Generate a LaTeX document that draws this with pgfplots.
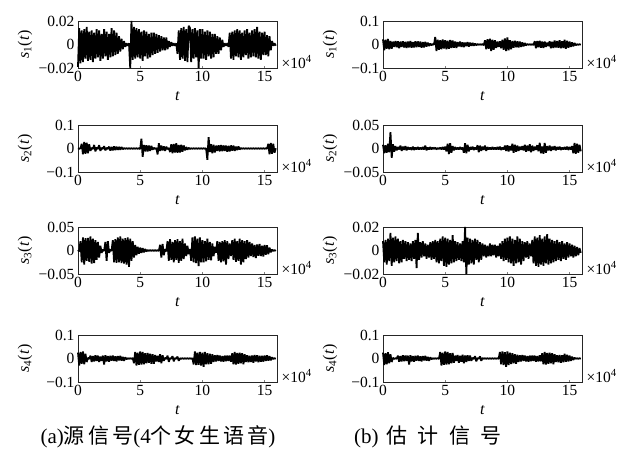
\documentclass[border=0pt]{standalone}
\usepackage{fontspec}
\setmainfont{Liberation Serif}
\newfontfamily\cjk[LetterSpace=15]{Noto Sans CJK SC}
\newfontfamily\cjkb[LetterSpace=50]{Noto Sans CJK SC}
\usepackage{pgfplots}
\pgfplotsset{compat=1.18}
\pgfplotsset{
  sig/.style={
    scale only axis, width=199pt, height=47pt, anchor=south west, clip=false,
    xmin=0, xmax=16, xtick={0,5,10,15},
    scaled x ticks=false, scaled y ticks=false,
    xtick pos=left, ytick pos=left, tick align=inside, major tick length=2.5pt,
    /pgf/number format/assume math mode=true,
    tick label style={font=\fontsize{15.5}{17}\selectfont},
    axis line style={black!85, line width=0.6pt},
    every axis y label/.style={at={(axis description cs:0,0.5)}, xshift=-53pt, rotate=90, anchor=center, font=\fontsize{16}{18}\selectfont},
    every axis x label/.style={at={(axis description cs:0.5,0)}, yshift=-28pt, anchor=center, font=\fontsize{16}{18}\selectfont},
    xlabel={\textit{t}},
  },
  sigline/.style={black, line width=1.8pt, mark=none, line join=bevel},
}
\newcommand{\xfour}{\node[anchor=west, font=\fontsize{15.5}{17}\selectfont, xshift=1pt, yshift=6pt] at (rel axis cs:1,0) {×10\textsuperscript{4}};}
\newcommand{\sigl}[1]{\textit{s}\textsubscript{#1}(\textit{t})}
\begin{document}
\begin{tikzpicture}
\useasboundingbox (0,0) rectangle (626pt,-450pt);
% ---------- left column ----------
\begin{axis}[sig, at={(78pt,-68pt)}, ymin=-0.02, ymax=0.02, ytick={-0.02,0,0.02}, yticklabels={−0.02,0,0.02}, ylabel={\sigl{1}}]
\addplot[sigline] table[header=false, row sep=\\, x expr=\coordindex*0.1, y index=0]{
-0.019\\ 0.014\\ -0.016\\ 0.012\\ -0.015\\ 0.013\\ -0.012\\ 0.015\\ -0.014\\ 0.011\\
-0.013\\ 0.012\\ -0.015\\ 0.010\\ -0.012\\ 0.013\\ -0.011\\ 0.012\\ -0.014\\ 0.009\\
-0.012\\ 0.013\\ -0.010\\ 0.011\\ -0.013\\ 0.009\\ -0.011\\ 0.014\\ -0.010\\ 0.012\\
-0.009\\ 0.010\\ -0.008\\ 0.007\\ -0.006\\ 0.005\\ -0.004\\ 0.003\\ -0.002\\ 0.001\\
-0.001\\ 0.001\\ -0.020\\ 0.020\\ -0.013\\ 0.015\\ -0.012\\ 0.014\\ -0.011\\ 0.013\\
-0.012\\ 0.011\\ -0.014\\ 0.012\\ -0.010\\ 0.011\\ -0.012\\ 0.009\\ -0.011\\ 0.010\\
-0.009\\ 0.010\\ -0.008\\ 0.009\\ -0.007\\ 0.008\\ -0.006\\ 0.007\\ -0.005\\ 0.006\\
-0.005\\ 0.006\\ -0.004\\ 0.003\\ -0.002\\ 0.002\\ -0.001\\ 0.001\\ -0.001\\ 0.001\\
-0.008\\ 0.012\\ -0.013\\ 0.014\\ -0.012\\ 0.015\\ -0.014\\ 0.013\\ -0.015\\ 0.016\\
0.014\\ -0.015\\ 0.013\\ -0.012\\ 0.014\\ -0.011\\ 0.012\\ -0.020\\ 0.013\\ -0.012\\
0.013\\ -0.012\\ 0.011\\ -0.013\\ 0.012\\ -0.010\\ 0.011\\ -0.012\\ 0.009\\ -0.011\\
0.009\\ -0.008\\ 0.007\\ -0.008\\ 0.006\\ -0.005\\ 0.004\\ -0.002\\ 0.001\\ -0.001\\
0.001\\ -0.002\\ 0.010\\ -0.012\\ 0.011\\ -0.013\\ 0.012\\ -0.010\\ 0.013\\ -0.011\\
0.012\\ -0.013\\ 0.010\\ -0.011\\ 0.012\\ -0.009\\ 0.013\\ -0.012\\ 0.010\\ -0.011\\
0.012\\ -0.010\\ 0.013\\ -0.011\\ 0.015\\ -0.012\\ 0.011\\ -0.013\\ 0.010\\ -0.009\\
0.011\\ -0.009\\ 0.008\\ -0.010\\ 0.007\\ -0.005\\ 0.003\\ -0.001\\ 0.001\\ -0.001\\
};
\xfour
\end{axis}
\begin{axis}[sig, at={(78pt,-172pt)}, ymin=-0.1, ymax=0.1, ytick={-0.1,0,0.1}, yticklabels={−0.1,0,0.1}, ylabel={\sigl{2}}]
\addplot[sigline] table[header=false, row sep=\\, x expr=\coordindex*0.1, y index=0]{
0.001\\ -0.001\\ 0.001\\ 0.020\\ -0.025\\ 0.028\\ -0.022\\ 0.025\\ -0.020\\ 0.018\\
-0.010\\ 0.003\\ -0.002\\ 0.015\\ -0.012\\ 0.004\\ -0.002\\ 0.014\\ -0.010\\ 0.003\\
-0.002\\ 0.010\\ -0.008\\ 0.003\\ -0.002\\ 0.008\\ -0.009\\ 0.007\\ -0.008\\ 0.009\\
-0.007\\ 0.008\\ -0.006\\ 0.007\\ -0.005\\ 0.006\\ -0.003\\ 0.002\\ -0.001\\ 0.001\\
-0.001\\ 0.001\\ -0.001\\ 0.001\\ -0.001\\ 0.001\\ -0.001\\ 0.001\\ -0.001\\ 0.001\\
-0.002\\ 0.042\\ -0.035\\ 0.015\\ -0.012\\ 0.014\\ -0.013\\ 0.012\\ -0.010\\ 0.011\\
-0.005\\ 0.003\\ -0.002\\ 0.002\\ -0.025\\ 0.022\\ -0.010\\ 0.012\\ -0.008\\ 0.009\\
-0.010\\ 0.008\\ -0.003\\ 0.002\\ -0.015\\ 0.018\\ -0.020\\ 0.019\\ -0.017\\ 0.022\\
-0.018\\ 0.015\\ -0.017\\ 0.016\\ -0.014\\ 0.013\\ -0.008\\ 0.006\\ -0.005\\ 0.003\\
-0.002\\ 0.001\\ -0.001\\ 0.001\\ -0.001\\ 0.001\\ -0.001\\ 0.001\\ -0.001\\ 0.001\\
-0.001\\ 0.001\\ -0.001\\ 0.001\\ -0.048\\ 0.048\\ -0.015\\ 0.018\\ -0.020\\ 0.016\\
-0.017\\ 0.012\\ -0.010\\ 0.014\\ -0.012\\ 0.015\\ -0.011\\ 0.013\\ -0.010\\ 0.012\\
-0.014\\ 0.011\\ -0.012\\ 0.013\\ -0.009\\ 0.012\\ -0.010\\ 0.008\\ -0.007\\ 0.009\\
-0.004\\ 0.002\\ -0.001\\ 0.001\\ -0.001\\ 0.001\\ -0.001\\ 0.001\\ -0.001\\ 0.001\\
-0.001\\ 0.001\\ -0.001\\ 0.001\\ -0.001\\ 0.001\\ -0.001\\ 0.001\\ -0.001\\ 0.001\\
-0.001\\ 0.001\\ -0.001\\ 0.020\\ -0.025\\ 0.024\\ -0.022\\ 0.020\\ -0.018\\ 0.001\\
};
\xfour
\end{axis}
\begin{axis}[sig, at={(78pt,-274pt)}, ymin=-0.05, ymax=0.05, ytick={-0.05,0,0.05}, yticklabels={−0.05,0,0.05}, ylabel={\sigl{3}}]
\addplot[sigline] table[header=false, row sep=\\, x expr=\coordindex*0.1, y index=0]{
0.001\\ -0.002\\ 0.020\\ -0.025\\ 0.028\\ -0.030\\ 0.026\\ -0.022\\ 0.027\\ -0.024\\
0.030\\ -0.028\\ 0.025\\ -0.027\\ 0.022\\ -0.020\\ 0.018\\ -0.015\\ 0.010\\ -0.005\\
0.002\\ -0.001\\ 0.018\\ -0.022\\ 0.020\\ -0.005\\ 0.002\\ -0.001\\ 0.022\\ -0.025\\
0.024\\ -0.026\\ 0.028\\ -0.025\\ 0.030\\ -0.027\\ 0.025\\ -0.028\\ 0.026\\ -0.030\\
0.028\\ -0.035\\ 0.025\\ -0.022\\ 0.020\\ -0.015\\ 0.012\\ -0.010\\ 0.008\\ -0.007\\
0.006\\ -0.005\\ 0.005\\ -0.004\\ 0.003\\ -0.002\\ 0.001\\ -0.001\\ 0.001\\ -0.001\\
0.001\\ -0.001\\ 0.001\\ -0.001\\ 0.001\\ -0.001\\ 0.012\\ -0.015\\ 0.014\\ -0.010\\
0.003\\ -0.002\\ 0.020\\ -0.022\\ 0.024\\ -0.020\\ 0.018\\ -0.025\\ 0.022\\ -0.020\\
0.024\\ -0.026\\ 0.020\\ -0.022\\ 0.025\\ -0.018\\ 0.015\\ -0.012\\ 0.010\\ -0.008\\
0.003\\ -0.022\\ 0.028\\ -0.025\\ 0.030\\ -0.027\\ 0.025\\ -0.033\\ 0.028\\ -0.025\\
0.022\\ -0.025\\ 0.020\\ -0.023\\ 0.025\\ -0.020\\ 0.018\\ -0.021\\ 0.015\\ -0.012\\
0.008\\ -0.005\\ 0.020\\ -0.022\\ 0.018\\ -0.025\\ 0.020\\ -0.023\\ 0.022\\ -0.030\\
0.020\\ -0.018\\ 0.015\\ -0.012\\ 0.022\\ -0.020\\ 0.025\\ -0.024\\ 0.020\\ -0.022\\
0.025\\ -0.030\\ 0.022\\ -0.025\\ 0.020\\ -0.018\\ 0.022\\ -0.015\\ 0.018\\ -0.012\\
0.015\\ -0.014\\ 0.012\\ -0.016\\ 0.013\\ -0.011\\ 0.014\\ -0.012\\ 0.010\\ -0.013\\
0.012\\ -0.009\\ 0.011\\ -0.008\\ 0.006\\ -0.004\\ 0.002\\ -0.001\\ 0.001\\ -0.001\\
};
\xfour
\end{axis}
\begin{axis}[sig, at={(78pt,-382pt)}, ymin=-0.1, ymax=0.1, ytick={-0.1,0,0.1}, yticklabels={−0.1,0,0.1}, ylabel={\sigl{4}}]
\addplot[sigline] table[header=false, row sep=\\, x expr=\coordindex*0.1, y index=0]{
0.025\\ -0.030\\ 0.028\\ -0.022\\ 0.030\\ -0.025\\ 0.020\\ -0.015\\ 0.003\\ -0.002\\
0.012\\ -0.015\\ 0.010\\ -0.012\\ 0.014\\ -0.010\\ 0.012\\ -0.015\\ 0.008\\ -0.010\\
0.012\\ -0.025\\ 0.014\\ -0.012\\ 0.010\\ -0.013\\ 0.011\\ -0.009\\ 0.012\\ -0.010\\
0.009\\ -0.012\\ 0.010\\ -0.008\\ 0.011\\ -0.009\\ 0.007\\ -0.010\\ 0.005\\ -0.003\\
0.001\\ -0.001\\ 0.001\\ -0.001\\ 0.002\\ -0.020\\ 0.028\\ -0.030\\ 0.025\\ -0.027\\
0.030\\ -0.026\\ 0.028\\ -0.025\\ 0.022\\ -0.020\\ 0.024\\ -0.018\\ 0.020\\ -0.022\\
0.018\\ -0.022\\ 0.015\\ -0.013\\ 0.012\\ -0.015\\ 0.018\\ -0.020\\ 0.014\\ -0.010\\
0.003\\ -0.002\\ 0.012\\ -0.014\\ 0.002\\ -0.001\\ 0.010\\ -0.012\\ 0.002\\ -0.001\\
0.008\\ -0.010\\ 0.001\\ -0.001\\ 0.001\\ -0.001\\ 0.001\\ -0.001\\ 0.001\\ -0.001\\
0.001\\ -0.001\\ 0.001\\ -0.025\\ 0.030\\ -0.028\\ 0.025\\ -0.027\\ 0.028\\ -0.030\\
0.025\\ -0.035\\ 0.028\\ -0.025\\ 0.022\\ -0.024\\ 0.020\\ -0.022\\ 0.018\\ -0.015\\
0.014\\ -0.012\\ 0.015\\ -0.010\\ 0.013\\ -0.012\\ 0.010\\ -0.014\\ 0.012\\ -0.011\\
0.013\\ -0.010\\ 0.012\\ -0.014\\ 0.022\\ -0.025\\ 0.028\\ -0.026\\ 0.024\\ -0.022\\
0.025\\ -0.020\\ 0.022\\ -0.024\\ 0.018\\ -0.015\\ 0.014\\ -0.016\\ 0.012\\ -0.015\\
0.013\\ -0.018\\ 0.015\\ -0.012\\ 0.014\\ -0.016\\ 0.012\\ -0.014\\ 0.011\\ -0.013\\
0.012\\ -0.010\\ 0.014\\ -0.009\\ 0.010\\ -0.008\\ 0.005\\ -0.002\\ 0.001\\ -0.001\\
};
\xfour
\end{axis}
% ---------- right column ----------
\begin{axis}[sig, at={(383pt,-68pt)}, ymin=-0.1, ymax=0.1, ytick={-0.1,0,0.1}, yticklabels={−0.1,0,0.1}, ylabel={\sigl{1}}]
\addplot[sigline] table[header=false, row sep=\\, x expr=\coordindex*0.1, y index=0]{
0.022\\ -0.025\\ 0.020\\ -0.018\\ 0.024\\ -0.020\\ 0.015\\ -0.018\\ 0.012\\ -0.010\\
0.015\\ -0.012\\ 0.014\\ -0.016\\ 0.012\\ -0.010\\ 0.014\\ -0.013\\ 0.011\\ -0.015\\
0.013\\ -0.012\\ 0.015\\ -0.014\\ 0.010\\ -0.012\\ 0.014\\ -0.011\\ 0.013\\ -0.010\\
0.012\\ -0.014\\ 0.010\\ -0.012\\ 0.011\\ -0.009\\ 0.008\\ -0.006\\ 0.004\\ -0.003\\
0.002\\ -0.001\\ 0.032\\ -0.028\\ 0.020\\ -0.022\\ 0.018\\ -0.020\\ 0.021\\ -0.017\\
0.018\\ -0.020\\ 0.016\\ -0.018\\ 0.019\\ -0.015\\ 0.017\\ -0.014\\ 0.013\\ -0.015\\
0.010\\ -0.008\\ 0.012\\ -0.010\\ 0.009\\ -0.011\\ 0.008\\ -0.007\\ 0.010\\ -0.009\\
0.008\\ -0.006\\ 0.007\\ -0.005\\ 0.004\\ -0.003\\ 0.002\\ -0.001\\ 0.001\\ -0.001\\
0.002\\ -0.003\\ 0.018\\ -0.020\\ 0.022\\ -0.018\\ 0.025\\ -0.028\\ 0.020\\ -0.022\\
0.018\\ -0.015\\ 0.012\\ -0.010\\ 0.014\\ -0.016\\ 0.020\\ -0.022\\ 0.026\\ -0.028\\
0.030\\ -0.025\\ 0.018\\ -0.020\\ 0.015\\ -0.014\\ 0.016\\ -0.012\\ 0.014\\ -0.013\\
0.012\\ -0.010\\ 0.009\\ -0.008\\ 0.006\\ -0.004\\ 0.002\\ -0.001\\ 0.001\\ -0.001\\
0.001\\ -0.002\\ 0.014\\ -0.016\\ 0.015\\ -0.012\\ 0.016\\ -0.014\\ 0.013\\ -0.015\\
0.012\\ -0.010\\ 0.008\\ -0.007\\ 0.014\\ -0.016\\ 0.012\\ -0.015\\ 0.017\\ -0.013\\
0.015\\ -0.014\\ 0.018\\ -0.016\\ 0.014\\ -0.015\\ 0.020\\ -0.018\\ 0.016\\ -0.014\\
0.012\\ -0.010\\ 0.009\\ -0.008\\ 0.006\\ -0.003\\ 0.001\\ -0.001\\ 0.001\\ -0.001\\
};
\xfour
\end{axis}
\begin{axis}[sig, at={(383pt,-172pt)}, ymin=-0.05, ymax=0.05, ytick={-0.05,0,0.05}, yticklabels={−0.05,0,0.05}, ylabel={\sigl{2}}]
\addplot[sigline] table[header=false, row sep=\\, x expr=\coordindex*0.1, y index=0]{
0.008\\ -0.010\\ 0.007\\ -0.009\\ 0.010\\ -0.008\\ 0.035\\ -0.020\\ 0.009\\ -0.007\\
0.005\\ -0.004\\ 0.003\\ -0.002\\ 0.006\\ -0.005\\ 0.004\\ -0.003\\ 0.005\\ -0.004\\
0.003\\ -0.002\\ 0.002\\ -0.003\\ 0.004\\ -0.003\\ 0.002\\ -0.002\\ 0.003\\ -0.002\\
0.002\\ -0.002\\ 0.003\\ -0.002\\ 0.006\\ -0.004\\ 0.002\\ -0.002\\ 0.003\\ -0.002\\
0.002\\ -0.001\\ 0.002\\ -0.002\\ 0.001\\ -0.001\\ 0.002\\ -0.002\\ 0.003\\ -0.002\\
0.004\\ -0.006\\ 0.010\\ -0.012\\ 0.011\\ -0.009\\ 0.005\\ -0.004\\ 0.003\\ -0.002\\
0.002\\ -0.002\\ 0.003\\ -0.002\\ 0.002\\ -0.009\\ 0.011\\ -0.010\\ 0.008\\ -0.006\\
0.003\\ -0.002\\ 0.004\\ -0.003\\ 0.002\\ -0.002\\ 0.007\\ -0.008\\ 0.006\\ -0.005\\
0.004\\ -0.003\\ 0.006\\ -0.005\\ 0.003\\ -0.002\\ 0.002\\ -0.002\\ 0.003\\ -0.002\\
0.002\\ -0.002\\ 0.003\\ -0.002\\ 0.004\\ -0.003\\ 0.002\\ -0.002\\ 0.006\\ -0.005\\
0.007\\ -0.006\\ 0.005\\ -0.004\\ 0.010\\ -0.009\\ 0.008\\ -0.007\\ 0.006\\ -0.005\\
0.004\\ -0.003\\ 0.005\\ -0.004\\ 0.008\\ -0.007\\ 0.006\\ -0.005\\ 0.009\\ -0.008\\
0.006\\ -0.005\\ 0.004\\ -0.003\\ 0.007\\ -0.006\\ 0.012\\ -0.010\\ 0.004\\ -0.011\\
0.012\\ -0.009\\ 0.005\\ -0.004\\ 0.006\\ -0.005\\ 0.004\\ -0.003\\ 0.005\\ -0.004\\
0.003\\ -0.002\\ 0.004\\ -0.003\\ 0.002\\ -0.002\\ 0.003\\ -0.002\\ 0.004\\ -0.003\\
0.003\\ -0.002\\ 0.005\\ -0.010\\ 0.012\\ -0.011\\ 0.010\\ -0.009\\ 0.008\\ -0.006\\
};
\xfour
\end{axis}
\begin{axis}[sig, at={(383pt,-274pt)}, ymin=-0.02, ymax=0.02, ytick={-0.02,0,0.02}, yticklabels={−0.02,0,0.02}, ylabel={\sigl{3}}]
\addplot[sigline] table[header=false, row sep=\\, x expr=\coordindex*0.1, y index=0]{
0.008\\ -0.010\\ 0.009\\ -0.012\\ 0.010\\ -0.009\\ 0.015\\ -0.013\\ 0.011\\ -0.010\\
0.012\\ -0.009\\ 0.010\\ -0.011\\ 0.008\\ -0.010\\ 0.009\\ -0.007\\ 0.008\\ -0.009\\
0.007\\ -0.008\\ 0.006\\ -0.009\\ 0.008\\ -0.007\\ 0.009\\ -0.015\\ 0.015\\ -0.008\\
0.007\\ -0.006\\ 0.008\\ -0.005\\ 0.006\\ -0.007\\ 0.005\\ -0.006\\ 0.007\\ -0.008\\
0.008\\ -0.007\\ 0.009\\ -0.010\\ 0.008\\ -0.011\\ 0.010\\ -0.009\\ 0.012\\ -0.013\\
0.011\\ -0.014\\ 0.010\\ -0.012\\ 0.009\\ -0.011\\ 0.013\\ -0.010\\ 0.008\\ -0.009\\
0.007\\ -0.008\\ 0.006\\ -0.009\\ 0.008\\ -0.010\\ 0.020\\ -0.020\\ 0.011\\ -0.012\\
0.010\\ -0.011\\ 0.009\\ -0.012\\ 0.010\\ -0.008\\ 0.009\\ -0.010\\ 0.007\\ -0.008\\
0.006\\ -0.005\\ 0.005\\ -0.006\\ 0.004\\ -0.005\\ 0.006\\ -0.005\\ 0.005\\ -0.004\\
0.005\\ -0.006\\ 0.004\\ -0.005\\ 0.006\\ -0.007\\ 0.008\\ -0.009\\ 0.010\\ -0.008\\
0.011\\ -0.010\\ 0.012\\ -0.011\\ 0.010\\ -0.013\\ 0.009\\ -0.011\\ 0.012\\ -0.010\\
0.010\\ -0.012\\ 0.008\\ -0.009\\ 0.007\\ -0.006\\ 0.008\\ -0.007\\ 0.006\\ -0.005\\
0.009\\ -0.011\\ 0.012\\ -0.013\\ 0.011\\ -0.014\\ 0.013\\ -0.012\\ 0.010\\ -0.013\\
0.012\\ -0.011\\ 0.014\\ -0.012\\ 0.010\\ -0.011\\ 0.009\\ -0.010\\ 0.008\\ -0.009\\
0.009\\ -0.008\\ 0.007\\ -0.009\\ 0.008\\ -0.007\\ 0.006\\ -0.008\\ 0.007\\ -0.006\\
0.006\\ -0.005\\ 0.005\\ -0.006\\ 0.004\\ -0.005\\ 0.003\\ -0.004\\ 0.002\\ -0.002\\
};
\xfour
\end{axis}
\begin{axis}[sig, at={(383pt,-382pt)}, ymin=-0.1, ymax=0.1, ytick={-0.1,0,0.1}, yticklabels={−0.1,0,0.1}, ylabel={\sigl{4}}]
\addplot[sigline] table[header=false, row sep=\\, x expr=\coordindex*0.1, y index=0]{
0.025\\ -0.028\\ 0.022\\ -0.025\\ 0.027\\ -0.020\\ 0.018\\ -0.015\\ 0.003\\ -0.002\\
0.001\\ -0.001\\ 0.012\\ -0.014\\ 0.010\\ -0.012\\ 0.014\\ -0.011\\ 0.013\\ -0.010\\
0.012\\ -0.025\\ 0.014\\ -0.012\\ 0.010\\ -0.013\\ 0.011\\ -0.009\\ 0.012\\ -0.010\\
0.009\\ -0.012\\ 0.010\\ -0.008\\ 0.011\\ -0.009\\ 0.007\\ -0.010\\ 0.005\\ -0.003\\
0.001\\ -0.001\\ 0.001\\ -0.001\\ 0.002\\ -0.002\\ 0.028\\ -0.030\\ 0.025\\ -0.027\\
0.030\\ -0.026\\ 0.028\\ -0.025\\ 0.022\\ -0.020\\ 0.024\\ -0.018\\ 0.012\\ -0.010\\
0.015\\ -0.018\\ 0.012\\ -0.014\\ 0.016\\ -0.020\\ 0.013\\ -0.015\\ 0.014\\ -0.010\\
0.012\\ -0.010\\ 0.003\\ -0.002\\ 0.010\\ -0.012\\ 0.002\\ -0.001\\ 0.009\\ -0.010\\
0.002\\ -0.001\\ 0.001\\ -0.001\\ 0.001\\ -0.001\\ 0.001\\ -0.001\\ 0.001\\ -0.001\\
0.001\\ -0.001\\ 0.001\\ -0.001\\ 0.028\\ -0.025\\ 0.030\\ -0.028\\ 0.027\\ -0.035\\
0.030\\ -0.028\\ 0.025\\ -0.024\\ 0.022\\ -0.020\\ 0.018\\ -0.022\\ 0.016\\ -0.015\\
0.014\\ -0.012\\ 0.015\\ -0.010\\ 0.013\\ -0.012\\ 0.010\\ -0.014\\ 0.012\\ -0.011\\
0.013\\ -0.010\\ 0.012\\ -0.014\\ 0.010\\ -0.012\\ 0.014\\ -0.012\\ 0.022\\ -0.025\\
0.028\\ -0.026\\ 0.024\\ -0.022\\ 0.025\\ -0.020\\ 0.022\\ -0.024\\ 0.018\\ -0.015\\
0.014\\ -0.016\\ 0.015\\ -0.018\\ 0.014\\ -0.016\\ 0.020\\ -0.014\\ 0.016\\ -0.013\\
0.012\\ -0.010\\ 0.008\\ -0.006\\ 0.003\\ -0.001\\ 0.001\\ -0.001\\ 0.001\\ -0.001\\
};
\xfour
\end{axis}
% ---------- captions ----------
\node[font=\fontsize{21}{23}\selectfont] at (158pt,-437pt) {(a){\cjk 源信号}(4{\cjk 个女生语音})};
\node[font=\fontsize{21}{23}\selectfont] at (428pt,-437pt) {(b)\hspace{8pt}{\cjkb 估计信号}};
\end{tikzpicture}
\end{document}
